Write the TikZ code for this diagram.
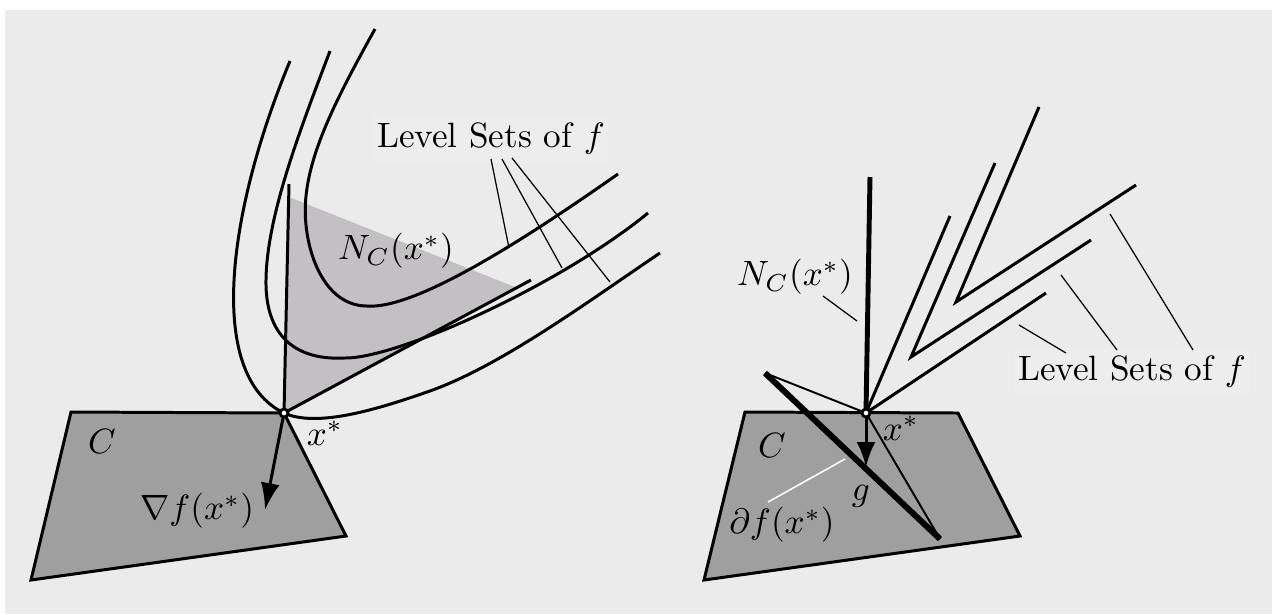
\documentclass[tikz,border=0pt]{standalone}
\usepackage{tikz}
\usetikzlibrary{arrows.meta,positioning,calc}
\definecolor{OptBack}{HTML}{EBEBEB}
\definecolor{OptSet}{HTML}{A09FA0}
\definecolor{OptCone}{HTML}{C2C0C2}

\begin{document}
\begin{tikzpicture}[x=0.01cm,y=-0.01cm,
    levelset/.style={line width=0.85pt},
    setedge/.style={draw=black,fill=OptSet,line width=0.85pt},
    leader/.style={line width=0.35pt},
    optpoint/.style={circle,draw=black,fill=white,line width=0.8pt,inner sep=0pt,minimum size=0.8mm},
    setlabel/.style={fill=white,fill opacity=0.15,text opacity=1,inner xsep=1.3pt,inner ysep=2.3pt}
  ]

  \useasboundingbox (0,0) rectangle (1278,614);
  \fill[OptBack] (5,10) rectangle (1272,614);

  % Left: smooth f
  \coordinate (xl) at (284,413);
  \filldraw[setedge] (71,412) -- (xl) -- (346,536) -- (31,580) -- cycle;
  \fill[OptCone] (xl) -- (289,197) -- (515,287) -- cycle;

  \draw[levelset] (290,61) .. controls (228,210) and (205,375) .. (xl)
    .. controls (315,427) and (370,412) .. (427,392)
    .. controls (500,367) and (590,300) .. (660,253);
  \draw[levelset] (330,51) .. controls (300,130) and (265,220) .. (266,285)
    .. controls (267,340) and (300,360) .. (343,358)
    .. controls (395,360) and (560,285) .. (648,213);
  \draw[levelset] (375,29) .. controls (330,110) and (300,170) .. (306,225)
    .. controls (310,265) and (330,306) .. (367,306)
    .. controls (420,310) and (545,225) .. (618,174);

  \draw[levelset] (289,184) -- (xl) -- (531,280);
  \draw[levelset,-{Latex[length=2.7mm,width=1.9mm]}] (xl) -- (265,510);
  \node[optpoint] at (xl) {};

  \node (cl) at (102,441) {$C$};
  \node (xsl) at (325,433) {$x^*$};
  \node (gradl) at (197,511) {$\nabla f(x^*)$};
  \node (ncl) at (396,251) {$N_C(x^*)$};
  \node[setlabel] (lsl) at (491,139) {Level Sets of $f$};
  \draw[leader] (491,159) -- (509,248);
  \draw[leader] (502,159) -- (562,268);
  \draw[leader] (512,158) -- (610,282);

  % Right: nonsmooth f
  \coordinate (xr) at (866,413);
  \filldraw[setedge] (745,412) -- (958,413) -- (1020,536) -- (704,580) -- cycle;

  \draw[levelset] (1039,107) -- (956,302) -- (1136,185);
  \draw[levelset] (995,163) -- (911,357) -- (1091,240);
  \draw[levelset] (950,216) -- (xr) -- (1046,293);

  \coordinate (sa) at (765,373);
  \coordinate (sb) at (940,539);
  \draw[line width=0.55pt] (sa) -- (xr) -- (sb);
  \draw[line width=1.7pt] (sa) -- (sb);
  \draw[line width=1.4pt] (870,177) -- (xr);
  \draw[levelset,-{Latex[length=2.5mm,width=1.9mm]}] (xr) -- (866,467);
  \node[optpoint] at (xr) {};

  \node (cr) at (772,445) {$C$};
  \node (xsr) at (901,428) {$x^*$};
  \node (gr) at (861,496) {$g$};
  \node (subr) at (782,525) {$\partial f(x^*)$};
  \node (ncr) at (795,277) {$N_C(x^*)$};
  \node[setlabel] (lsr) at (1132,372) {Level Sets of $f$};
  \draw[leader] (823,296) -- (857,321);
  \draw[white,line width=0.45pt] (768,502) -- (845,459);
  \draw[leader] (1066,353) -- (1019,325);
  \draw[leader] (1117,350) -- (1061,275);
  \draw[leader] (1193,350) -- (1110,214);
\end{tikzpicture}
\end{document}
